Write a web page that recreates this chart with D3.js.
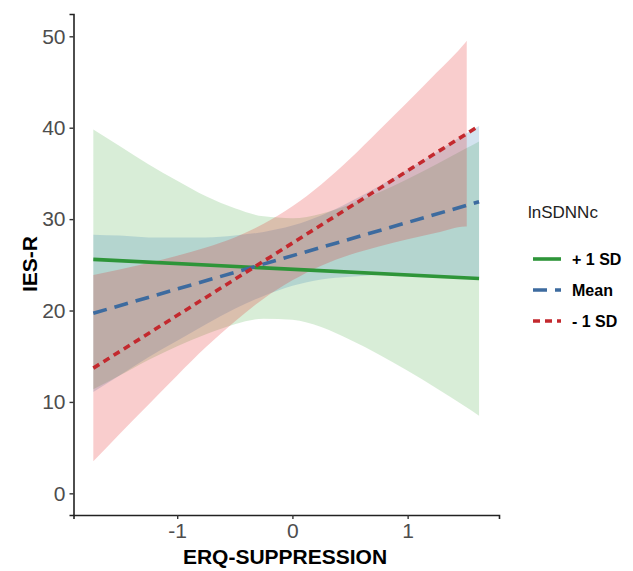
<!DOCTYPE html>
<html>
<head>
<meta charset="utf-8">
<script src="https://cdn.jsdelivr.net/npm/d3@7"></script>
<style>
  body { margin: 0; background: #fff; }
  svg { display: block; font-family: "Liberation Sans", Arial, sans-serif; }
</style>
</head>
<body>
<script>
// values
const lineX = [-1.728, 1.62];
const plusLine = [25.6, 23.5];
const meanLine = [19.7, 31.9];
const minusLine = [13.7, 40.2];

const bandX = [-1.728, -1.5, -1.25, -1, -0.75, -0.5, -0.25, 0, 0.25, 0.5, 0.75, 1, 1.25, 1.5, 1.62];
const plusUpper = [39.8, 38.0, 36.0, 34.2, 32.5, 31.2, 30.3, 30.1, 30.6, 31.6, 32.9, 34.4, 36.0, 37.7, 38.5];
const plusLower = [11.4, 12.9, 14.6, 16.1, 17.4, 18.5, 19.1, 19.0, 18.2, 16.8, 15.2, 13.4, 11.5, 9.5, 8.5];
const meanUpper = [28.3, 28.2, 28.0, 28.0, 28.0, 28.2, 28.6, 29.3, 30.4, 31.9, 33.6, 35.4, 37.3, 39.3, 40.2];
const meanLower = [11.1, 12.9, 14.9, 16.7, 18.5, 20.2, 21.6, 22.7, 23.4, 23.7, 23.9, 23.9, 23.8, 23.7, 23.6];

const minusX = [-1.728, -1.5, -1.25, -1, -0.75, -0.5, -0.25, 0, 0.25, 0.5, 0.75, 1, 1.25, 1.5, 1.513];
const minusUpper = [23.9, 24.5, 25.2, 26.0, 26.9, 28.0, 29.5, 31.4, 33.8, 36.6, 39.7, 42.8, 46.0, 49.3, 49.5];
const minusLower = [3.5, 6.5, 9.7, 12.9, 16.0, 18.8, 21.3, 23.3, 24.9, 26.1, 27.0, 27.8, 28.5, 29.2, 29.2];

const yTicks = [0, 10, 20, 30, 40, 50];
const xTicks = [-1, 0, 1];
const legendLabels = ["+ 1 SD", "Mean", "- 1 SD"];

const W = 633, H = 571;
const svg = d3.select("body").append("svg").attr("width", W).attr("height", H);

const x = d3.scaleLinear().domain([-1.9, 1.793]).range([73.5, 499]);
const y = d3.scaleLinear().domain([-2.37, 52.44]).range([515, 14]);

const series = [
  { name: legendLabels[0], xs: bandX, up: plusUpper, lo: plusLower, line: plusLine,
    stroke: "#2e9539", fill: "#4daf4a", dash: null },
  { name: legendLabels[1], xs: bandX, up: meanUpper, lo: meanLower, line: meanLine,
    stroke: "#3d6b9f", fill: "#377eb8", dash: "14,8" },
  { name: legendLabels[2], xs: minusX, up: minusUpper, lo: minusLower, line: minusLine,
    stroke: "#c3292e", fill: "#e41a1c", dash: "7,5" }
];

const area = d3.area()
  .x(d => x(d.x)).y0(d => y(d.lo)).y1(d => y(d.up))
  .curve(d3.curveMonotoneX);

series.forEach(s => {
  const pts = s.xs.map((v, i) => ({ x: v, up: s.up[i], lo: s.lo[i] }));
  svg.append("path").datum(pts)
    .attr("d", area)
    .attr("fill", s.fill)
    .attr("fill-opacity", 0.22);
});

const line = d3.line().x(d => x(d[0])).y(d => y(d[1]));
series.forEach(s => {
  svg.append("path")
    .datum(lineX.map((v, i) => [v, s.line[i]]))
    .attr("d", line)
    .attr("fill", "none")
    .attr("stroke", s.stroke)
    .attr("stroke-width", 3.6)
    .attr("stroke-dasharray", s.dash);
});

// axes
const yAxis = svg.append("g")
  .attr("transform", "translate(73.5,0)")
  .call(d3.axisLeft(y).tickValues(yTicks).tickSize(4).tickPadding(4));
const xAxis = svg.append("g")
  .attr("transform", "translate(0,515)")
  .call(d3.axisBottom(x).tickValues(xTicks).tickFormat(d => String(d)).tickSize(4).tickPadding(4));

[yAxis, xAxis].forEach(g => {
  g.select(".domain").attr("stroke", "#222").attr("stroke-width", 1.6);
  g.selectAll(".tick line").attr("stroke", "#333").attr("stroke-width", 1.4);
  g.selectAll(".tick text")
    .attr("fill", "#4d4d4d")
    .style("font-size", "21px")
    .style("font-family", "'Liberation Sans', Arial, sans-serif");
});

svg.append("text")
  .attr("x", 285).attr("y", 564)
  .attr("text-anchor", "middle")
  .style("font-size", "21px").style("font-weight", "bold")
  .text("ERQ-SUPPRESSION");

svg.append("text")
  .attr("transform", "translate(37,264) rotate(-90)")
  .attr("text-anchor", "middle")
  .style("font-size", "21px").style("font-weight", "bold")
  .text("IES-R");

// legend
const legend = svg.append("g").attr("transform", "translate(528,0)");
legend.append("text")
  .attr("x", 0).attr("y", 218)
  .style("font-size", "17px").attr("fill", "#222")
  .text("lnSDNNc");

const rowY = [259, 290, 321];
series.forEach((s, i) => {
  legend.append("line")
    .attr("x1", 5).attr("x2", 33)
    .attr("y1", rowY[i]).attr("y2", rowY[i])
    .attr("stroke", s.stroke)
    .attr("stroke-width", 3.6)
    .attr("stroke-dasharray", s.dash);
  legend.append("text")
    .attr("x", 44).attr("y", rowY[i] + 6)
    .style("font-size", "16px").style("font-weight", "bold")
    .text(s.name);
});
</script>
</body>
</html>
